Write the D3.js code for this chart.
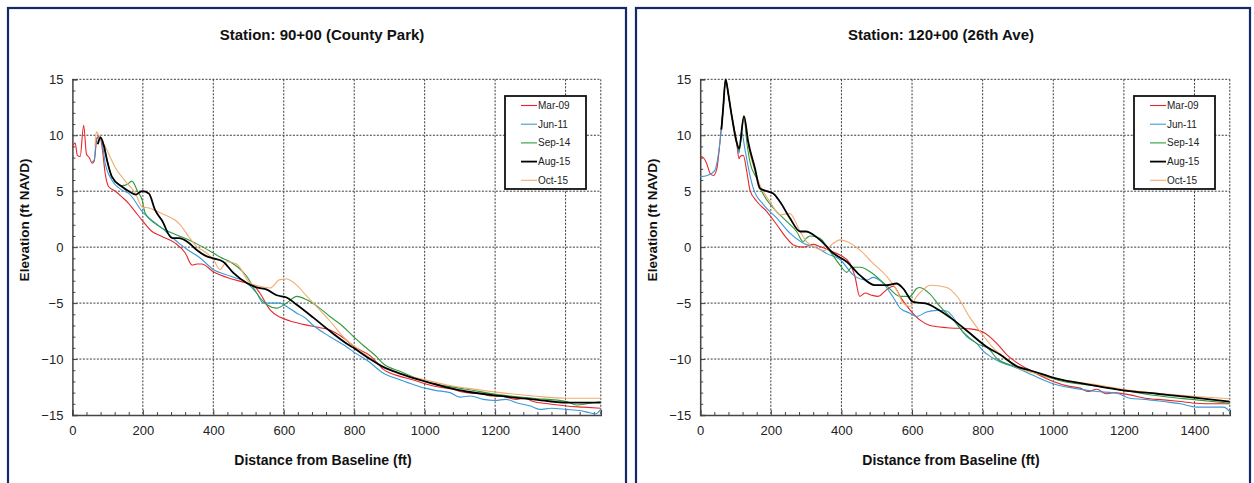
<!DOCTYPE html>
<html><head><meta charset="utf-8">
<script src="https://cdn.jsdelivr.net/npm/d3@7/dist/d3.min.js"></script>
<style>body{margin:0;background:#fff;}svg{display:block;font-family:"Liberation Sans",Arial,sans-serif;}</style>
</head><body><svg id="c" width="1254" height="483"></svg>
<script>
// ---------- DATA ----------
const seriesNames = ["Mar-09","Jun-11","Sep-14","Aug-15","Oct-15"];
const seriesColors = ["#e8262b","#3b9ad6","#2f9a3a","#000000","#f2ac70"];
const xTicks = [0,200,400,600,800,1000,1200,1400];
const yTicks = [-15,-10,-5,0,5,10,15];
const titles = ["Station: 90+00 (County Park)","Station: 120+00 (26th Ave)"];

// Station 90+00 (County Park)
const parkMar09 = [[0,9],[4,9.2],[8,9.3],[14,8.2],[22,8.1],[32,10.9],[40,8.3],[48,8.0],[56,7.5],[62,7.7],[70,9.8],[78,9.9],[84,9.0],[93,6.6],[103,5.4],[122,5.0],[140,4.5],[160,3.9],[180,3.1],[198,2.4],[226,1.4],[254,0.95],[292,0.36],[320,-0.5],[340,-1.6],[354,-1.5],[367,-1.5],[400,-2.2],[447,-2.8],[495,-3.2],[514,-3.4],[532,-4.1],[561,-5.6],[589,-6.25],[618,-6.6],[655,-6.9],[703,-7.2],[731,-7.4],[769,-8.1],[800,-8.9],[845,-9.7],[882,-10.9],[930,-11.55],[960,-11.8],[1001,-12.2],[1040,-12.5],[1080,-12.7],[1100,-12.9],[1119,-13.0],[1160,-13.1],[1190,-13.3],[1214,-13.3],[1260,-13.6],[1285,-13.5],[1308,-13.8],[1350,-14.0],[1403,-14.2],[1450,-14.3],[1500,-14.4]];
const parkJun11 = [[55,7.6],[62,7.8],[68,9.6],[78,9.8],[86,9.0],[93,7.5],[112,6.0],[141,5.1],[160,4.8],[198,3.2],[254,1.7],[302,0.36],[330,-0.3],[360,-0.9],[400,-2.0],[450,-2.6],[495,-3.2],[523,-4.1],[542,-5.0],[589,-5.0],[608,-5.3],[637,-5.9],[660,-6.3],[684,-7.0],[731,-8.0],[778,-8.9],[800,-9.4],[840,-10.2],[882,-11.25],[930,-11.85],[970,-12.3],[1001,-12.6],[1030,-12.8],[1072,-13.0],[1100,-13.4],[1130,-13.3],[1166,-13.6],[1200,-13.7],[1230,-13.6],[1261,-13.9],[1300,-14.2],[1327,-14.5],[1360,-14.4],[1403,-14.5],[1440,-14.6],[1469,-14.8],[1485,-14.9],[1500,-14.5]];
const parkSep14 = [[72,9.4],[80,9.7],[90,9.0],[100,7.6],[112,6.3],[141,5.5],[155,5.6],[169,5.9],[185,5.0],[198,4.2],[207,3.0],[235,2.1],[273,1.4],[311,0.9],[349,0.36],[396,-0.45],[420,-0.9],[447,-1.3],[470,-1.8],[495,-2.6],[523,-4.1],[552,-5.15],[580,-5.45],[608,-5.0],[637,-4.4],[665,-4.7],[700,-5.4],[731,-6.2],[765,-7.0],[798,-8.0],[830,-8.9],[864,-9.8],[882,-10.4],[930,-11.1],[1001,-12.0],[1060,-12.4],[1119,-12.7],[1214,-13.2],[1308,-13.5],[1403,-13.8],[1431,-14.1],[1460,-14.0],[1500,-13.8]];
const parkAug15 = [[72,9.2],[80,9.8],[89,9.1],[98,7.8],[112,6.3],[141,5.4],[160,5.0],[179,4.7],[198,5.0],[217,4.8],[235,3.3],[254,2.4],[283,0.8],[302,0.8],[330,0.4],[353,-0.25],[380,-0.8],[400,-1.0],[428,-1.3],[457,-2.3],[495,-3.2],[523,-3.6],[552,-3.8],[580,-4.3],[608,-4.5],[637,-5.15],[684,-6.3],[731,-7.5],[778,-8.6],[798,-9.0],[840,-9.9],[882,-10.7],[930,-11.3],[1001,-12.0],[1060,-12.5],[1119,-12.9],[1214,-13.3],[1308,-13.6],[1403,-13.9],[1500,-13.9]];
const parkOct15 = [[64,9.0],[68,10.3],[78,9.8],[93,9.0],[122,7.1],[150,5.9],[179,4.8],[198,3.6],[217,3.5],[254,3.0],[292,2.4],[306,2.0],[330,0.95],[353,0.05],[380,-0.5],[400,-1.1],[419,-2.0],[438,-1.3],[466,-1.5],[504,-3.2],[532,-3.5],[561,-3.65],[589,-2.9],[608,-2.85],[637,-3.4],[660,-4.2],[684,-5.0],[731,-6.6],[778,-8.3],[798,-8.8],[840,-9.8],[882,-10.7],[940,-11.4],[1001,-11.85],[1060,-12.3],[1119,-12.6],[1214,-13.0],[1308,-13.3],[1403,-13.5],[1500,-13.5]];

// Station 120+00 (26th Ave)
const aveMar09 = [[0,8.1],[4,8.1],[18,7.5],[28,6.6],[37,6.4],[47,7.0],[56,9.4],[65,12.4],[72,15.0],[80,13.6],[89,11.8],[103,9.4],[110,7.9],[113,8.1],[122,8.2],[132,6.75],[141,5.1],[160,4.1],[188,3.2],[217,2.0],[245,0.8],[264,0.2],[292,0.0],[320,0.25],[339,0.05],[367,-0.3],[396,-0.7],[424,-1.45],[438,-2.6],[452,-4.4],[467,-4.1],[486,-4.3],[504,-4.4],[528,-3.8],[547,-3.5],[570,-4.6],[594,-5.6],[622,-6.5],[651,-7.0],[700,-7.2],[764,-7.3],[802,-7.6],[840,-8.6],[868,-9.6],[887,-10.1],[934,-11.0],[1000,-12.0],[1040,-12.4],[1076,-12.6],[1100,-12.9],[1123,-12.7],[1150,-13.1],[1170,-13.0],[1217,-13.2],[1260,-13.5],[1312,-13.65],[1360,-13.8],[1406,-13.95],[1450,-14.0],[1500,-14.0]];
const aveJun11 = [[0,6.3],[20,6.4],[40,6.8],[56,9.4],[65,12.4],[72,15.0],[80,13.6],[89,11.8],[103,9.4],[110,8.4],[117,10.3],[127,8.7],[137,7.0],[150,5.3],[179,3.8],[217,2.6],[254,1.25],[292,0.35],[330,-0.05],[360,-0.6],[396,-1.1],[434,-2.5],[472,-2.95],[490,-2.7],[520,-3.3],[545,-4.4],[566,-5.45],[594,-5.9],[613,-6.2],[641,-5.8],[670,-5.65],[698,-5.7],[715,-6.2],[735,-7.2],[755,-8.0],[783,-8.6],[802,-9.3],[840,-10.1],[896,-10.8],[953,-11.6],[1000,-12.2],[1057,-12.6],[1123,-12.9],[1180,-13.05],[1217,-13.5],[1260,-13.6],[1312,-13.8],[1360,-14.0],[1406,-14.3],[1482,-14.3],[1500,-14.7]];
const aveSep14 = [[60,10.5],[65,12.4],[72,15.0],[80,13.6],[89,11.8],[103,9.4],[110,8.6],[124,11.6],[132,9.4],[141,7.6],[160,6.15],[179,4.7],[207,3.5],[245,2.3],[273,1.4],[292,0.5],[301,0.8],[311,1.0],[339,0.8],[367,-0.35],[396,-1.6],[415,-2.25],[429,-1.8],[453,-1.8],[490,-2.4],[528,-3.45],[566,-4.4],[594,-4.4],[613,-3.7],[622,-3.6],[651,-4.2],[679,-5.3],[717,-6.5],[745,-7.6],[783,-8.6],[821,-9.2],[840,-9.95],[896,-10.7],[953,-11.3],[1029,-12.0],[1123,-12.4],[1217,-12.9],[1312,-13.35],[1406,-13.65],[1500,-13.95]];
const aveAug15 = [[60,10.5],[65,12.4],[72,15.0],[80,13.6],[89,11.8],[103,9.4],[110,8.8],[124,11.7],[136,9.4],[155,7.05],[169,5.25],[179,5.1],[207,4.8],[226,4.05],[254,2.6],[283,1.4],[301,1.4],[320,1.1],[339,0.65],[377,-0.55],[415,-1.3],[452,-2.5],[495,-3.4],[528,-3.4],[556,-3.25],[575,-3.7],[603,-4.9],[641,-5.05],[670,-5.5],[717,-6.5],[764,-7.7],[811,-8.9],[849,-9.6],[900,-10.7],[934,-11.0],[1010,-11.75],[1104,-12.3],[1198,-12.8],[1293,-13.1],[1387,-13.4],[1500,-13.8]];
const aveOct15 = [[60,10.5],[65,12.4],[72,15.0],[80,13.6],[89,11.8],[103,9.4],[110,8.8],[124,11.7],[136,9.1],[150,7.3],[169,5.55],[198,4.05],[226,2.9],[254,3.0],[283,1.4],[301,0.5],[330,-0.1],[350,-0.3],[377,0.35],[396,0.65],[415,0.5],[452,-0.25],[490,-1.45],[528,-2.6],[556,-3.8],[575,-5.0],[594,-5.3],[613,-4.4],[632,-3.8],[651,-3.4],[698,-3.6],[730,-4.5],[764,-6.3],[792,-7.5],[830,-9.0],[868,-10.0],[896,-10.7],[953,-11.3],[1029,-11.9],[1123,-12.3],[1217,-12.8],[1312,-13.1],[1406,-13.35],[1500,-13.55]];

const charts = [
  {title: titles[0], series: [parkMar09, parkJun11, parkSep14, parkAug15, parkOct15]},
  {title: titles[1], series: [aveMar09, aveJun11, aveSep14, aveAug15, aveOct15]}
];

// ---------- LAYOUT ----------
const panels = [
  {bx: 8, bw: 618, plot: {x0: 72.4, x1: 600.8}, legendX: 505, titleX: 322, xLabelX: 323},
  {bx: 636, bw: 614, plot: {x0: 700.2, x1: 1229.8}, legendX: 1134, titleX: 941, xLabelX: 951}
];
const yTop = 79.3, yBot = 415;

const svg = d3.select("#c");

charts.forEach((chart, i) => {
  const p = panels[i];
  const g = svg.append("g");
  g.append("rect").attr("x", p.bx).attr("y", 8).attr("width", p.bw).attr("height", 490)
    .attr("fill", "#fff").attr("stroke", "#14296b").attr("stroke-width", 2.2);

  const x = d3.scaleLinear().domain([0, 1500]).range([p.plot.x0, p.plot.x1]);
  const y = d3.scaleLinear().domain([-15, 15]).range([yBot, yTop]);

  // grid
  const grid = g.append("g").attr("stroke", "#3a3a3a").attr("stroke-width", 1).attr("stroke-dasharray", "2,1.5");
  xTicks.filter(t => t > 0).concat([1500]).forEach(t => {
    grid.append("line").attr("x1", x(t)).attr("x2", x(t)).attr("y1", yTop).attr("y2", yBot);
  });
  yTicks.filter(t => t > -15).forEach(t => {
    grid.append("line").attr("x1", x(0)).attr("x2", x(1500)).attr("y1", y(t)).attr("y2", y(t));
  });

  // axes
  const minorX = d3.range(0, 1501, 40).filter(v => v % 200 !== 0);
  const minorY = d3.range(-15, 16, 1).filter(v => v % 5 !== 0);
  const axX = g.append("g").attr("transform", `translate(0,${yBot})`)
    .call(d3.axisBottom(x).tickValues(xTicks).tickSize(-5).tickPadding(11).tickFormat(d3.format("d")));
  const axXm = g.append("g").attr("transform", `translate(0,${yBot})`)
    .call(d3.axisBottom(x).tickValues(minorX).tickSize(-3).tickFormat(""));
  axXm.select(".domain").remove();
  const axY = g.append("g").attr("transform", `translate(${x(0)},0)`)
    .call(d3.axisLeft(y).tickValues(yTicks).tickSize(-5).tickPadding(9).tickFormat(d3.format("d")));
  const axYm = g.append("g").attr("transform", `translate(${x(0)},0)`)
    .call(d3.axisLeft(y).tickValues(minorY).tickSize(-3).tickFormat(""));
  axYm.select(".domain").remove();
  [axX, axXm, axY, axYm].forEach(a => {
    a.selectAll("line").attr("stroke", "#444");
    a.select(".domain").attr("stroke", "#444").attr("stroke-width", 1.5);
    a.selectAll("text").attr("font-size", 13).attr("fill", "#222").attr("font-family", "Liberation Sans, Arial, sans-serif");
  });

  // lines
  const line = d3.line().x(d => x(d[0])).y(d => y(d[1])).curve(d3.curveMonotoneX);
  const clipId = "clip" + i;
  g.append("clipPath").attr("id", clipId).append("rect")
    .attr("x", x(0)).attr("y", yTop - 1).attr("width", x(1500) - x(0)).attr("height", yBot - yTop + 2);
  const lg = g.append("g").attr("clip-path", `url(#${clipId})`);
  const order = [0, 1, 2, 4, 3];
  order.forEach(k => {
    lg.append("path").datum(chart.series[k]).attr("d", line).attr("fill", "none")
      .attr("stroke", seriesColors[k]).attr("stroke-width", k === 3 ? 1.8 : 1.1)
      .attr("stroke-linejoin", "round");
  });

  // titles
  g.append("text").attr("x", p.titleX).attr("y", 40).attr("text-anchor", "middle")
    .attr("font-size", 15).attr("font-weight", "bold").attr("fill", "#111").text(chart.title);
  g.append("text").attr("x", p.xLabelX).attr("y", 465).attr("text-anchor", "middle")
    .attr("font-size", 14).attr("font-weight", "bold").attr("fill", "#111").text("Distance from Baseline (ft)");
  g.append("text").attr("transform", `translate(${p.bx + 21},220) rotate(-90)`).attr("text-anchor", "middle")
    .attr("font-size", 13.5).attr("font-weight", "bold").attr("fill", "#111").text("Elevation (ft NAVD)");

  // legend
  const leg = g.append("g").attr("transform", `translate(${p.legendX},96)`);
  leg.append("rect").attr("width", 81).attr("height", 93).attr("fill", "#fff")
    .attr("stroke", "#111").attr("stroke-width", 1.8);
  seriesNames.forEach((n, k) => {
    const yy = 9.5 + k * 18.7;
    leg.append("line").attr("x1", 16).attr("x2", 32).attr("y1", yy).attr("y2", yy)
      .attr("stroke", seriesColors[k]).attr("stroke-width", k === 3 ? 1.8 : 1.1);
    leg.append("text").attr("x", 33).attr("y", yy + 3.5).attr("font-size", 10).attr("fill", "#222").text(n);
  });
});
</script></body></html>
